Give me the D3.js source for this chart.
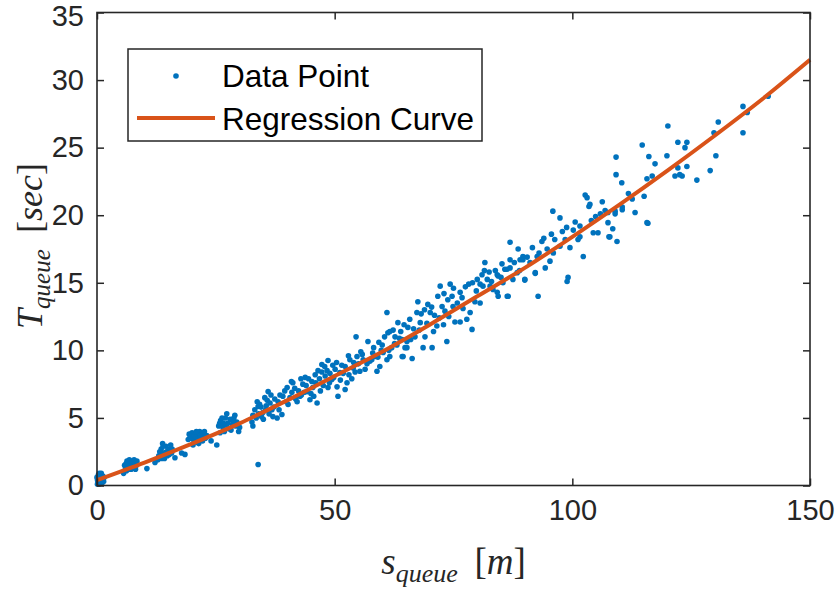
<!DOCTYPE html>
<html>
<head>
<meta charset="utf-8">
<script src="https://cdn.jsdelivr.net/npm/d3@7"></script>
<style>
  body { margin: 0; background: #fff; }
  svg { display: block; }
</style>
</head>
<body>
<script>
const width  = 840;
const height = 590;

const sQueue = [
  0.2, 0.5, 0.8, 0.3, 1.0, 0.1, 1.2, 0.6, 0.4, 0.9, 1.4, 0.2, 0.7, 1.1, 0.0, 0.5,
  6.0, 6.5, 7.0, 7.5, 8.0, 6.2, 7.2, 8.3, 6.8, 7.8, 5.8, 7.4, 8.1, 6.6, 10.5, 5.6,
  13.0, 13.5, 14.0, 14.5, 15.0, 15.5, 12.8, 14.2, 15.2, 15.8, 13.8, 14.8, 12.2, 16.4, 18.5, 17.8,
  19.2, 19.6, 20.0, 20.4, 20.8, 21.2, 21.6, 22.0, 22.4, 22.8, 20.2, 21.4, 19.8, 23.1, 25.2, 24.0,
  25.6, 26.0, 26.5, 27.0, 27.5, 28.0, 28.5, 29.0, 29.4, 26.8, 28.2, 27.3, 25.9, 30.0, 29.8, 28.8,
  32.6, 32.8, 33.2, 33.7, 34.0, 34.5, 34.9, 35.3, 35.6, 36.0, 36.4, 36.8,
  37.0, 37.4, 37.9, 38.1, 38.5, 38.9, 39.1, 33.9, 35.0, 36.2, 33.9, 32.8,
  40.0, 40.2, 41.0, 41.2, 42.1, 42.7, 43.3, 43.8, 44.2, 44.8, 45.2, 45.4,
  45.9, 46.3, 47.3, 47.3, 48.0, 48.6, 48.6, 49.4, 50.1, 50.5, 50.7, 51.1,
  52.2, 52.2, 52.6, 53.2, 53.9, 54.5, 54.7, 55.3, 56.0, 56.4, 57.0, 58.9,
  39.5, 40.6, 41.6, 42.4, 43.0, 44.0, 45.0, 46.0, 46.8, 47.6,
  48.4, 49.0, 49.8, 51.5, 53.0, 54.0, 55.0, 55.8, 57.4, 58.0,
  58.5, 59.1, 59.5, 60.0, 60.2, 61.0, 61.0, 61.2, 61.6, 61.6, 62.3, 62.7,
  63.1, 63.3, 64.2, 64.2, 64.4, 64.8, 65.2, 65.2, 65.4, 66.3, 66.9, 67.3,
  67.5, 68.0, 68.6, 69.0, 69.6, 70.1, 70.5, 71.5, 71.7, 72.2, 72.6, 73.6,
  73.8, 74.3, 74.7, 74.9, 75.3, 76.4, 76.4, 77.8, 78.5, 78.9,
  59.8, 62.0, 63.6, 66.0, 67.8, 69.4, 70.8, 72.0, 73.2, 75.8, 77.0, 79.5,
  80.0, 80.6, 80.6, 81.2, 81.6, 82.1, 82.7, 83.3, 84.2, 84.2, 84.4, 84.4, 85.4,
  85.8, 86.3, 86.3, 86.5, 86.9, 86.9, 86.9, 87.5, 88.4, 88.6, 89.0, 89.6, 89.6,
  90.0, 90.0, 91.1, 92.2, 92.2, 92.6, 92.8, 93.6, 94.3, 94.7, 95.3, 81.0, 83.0, 85.0,
  95.9, 96.3, 97.4, 97.4, 98.5, 98.9, 99.1, 99.5, 100.6, 101.2, 101.6, 101.6,
  102.3, 102.7, 103.1, 103.5, 103.7, 104.4, 105.4, 106.9, 107.5, 107.5, 107.7, 107.9,
  109.0, 109.0, 109.2, 109.2, 109.4, 110.4, 110.5, 110.5, 113.2, 114.7, 115.1, 115.7, 115.9,
  116.1, 117.4, 120.1, 119.9, 115.7, 116.8, 121.6, 122.2, 122.2, 123.1, 123.7, 124.1,
  124.1, 126.2, 129.0, 130.2, 129.8, 130.7, 135.9, 136.8, 135.9, 141.2, 122.6,
  0.3, 0.6, 1.3, 0.8, 0.1, 1.5,
  6.3, 7.1, 7.7, 8.4, 6.9, 6.1,
  13.2, 13.9, 14.6, 15.4, 13.6, 14.4, 15.7,
  19.4, 20.6, 21.0, 21.8, 22.2, 20.9, 22.6,
  25.8, 26.3, 27.2, 27.8, 28.6, 29.2, 26.6,
  33.5, 34.2, 35.8, 36.6, 37.2, 38.3, 34.6, 35.5,
  39.8, 40.9, 41.8, 42.9, 43.6, 44.5, 45.6, 46.5, 47.0, 47.9, 48.9, 49.6,
  50.4, 51.2, 51.8, 52.9, 53.6, 54.3, 55.5, 56.8, 57.8, 58.2, 59.3,
  60.5, 61.4, 62.6, 63.9, 64.6, 65.8, 66.6, 68.2, 68.9, 70.4,
  71.0, 72.9, 74.0, 75.0, 76.8, 77.5, 78.2, 79.0, 79.8, 73.0,
  81.5, 82.5, 83.8, 85.2, 87.8, 88.9, 90.5, 91.6, 93.0, 94.0, 96.0, 97.9, 98.8, 100.2, 95.6,
  104.0, 105.9, 106.3, 108.5, 111.8, 112.6, 104.9
];
const tQueue = [
  0.3, 0.6, 0.2, 0.8, 0.5, 0.1, 0.7, 0.4, 0.1, 0.9, 0.3, 0.5, 0.7, 0.2, 0.6, 0.9,
  1.3, 1.6, 1.8, 1.4, 1.7, 1.1, 1.2, 1.5, 1.9, 1.9, 1.5, 1.6, 1.2, 1.4, 1.25, 0.9,
  2.2, 2.7, 2.4, 2.9, 2.6, 3.0, 1.9, 2.0, 2.3, 2.7, 3.1, 2.2, 1.7, 2.05, 2.3, 2.4,
  3.4, 3.7, 3.9, 3.3, 3.8, 3.5, 4.0, 3.6, 3.9, 3.5, 3.0, 3.1, 3.5, 3.7, 3.0, 3.3,
  4.4, 4.8, 4.3, 5.0, 4.6, 4.9, 4.5, 5.2, 4.7, 4.0, 4.1, 5.3, 3.9, 4.3, 4.0, 5.0,
  4.7, 5.2, 5.6, 6.2, 5.3, 5.8, 5.4, 6.5, 5.9, 6.95, 6.1, 5.6,
  5.1, 6.4, 5.0, 6.2, 6.7, 5.25, 6.6, 5.85, 4.9, 5.3, 1.55, 4.4,
  7.25, 6.0, 6.9, 7.6, 6.2, 6.6, 7.5, 8.0, 6.95, 6.35, 7.7, 7.25,
  8.2, 6.1, 8.4, 8.95, 8.1, 9.25, 7.25, 7.85, 8.6, 7.3, 6.6, 8.35,
  7.1, 8.8, 7.6, 9.3, 8.7, 11.0, 9.55, 8.45, 9.3, 8.6, 10.65, 8.45,
  7.0, 6.5, 7.2, 7.0, 6.7, 7.4, 6.8, 7.6, 7.9, 7.4,
  8.5, 8.3, 8.0, 8.9, 8.2, 9.1, 9.0, 9.7, 9.2, 9.8,
  9.55, 9.5, 8.8, 10.4, 9.85, 9.3, 12.8, 11.3, 9.55, 11.4, 11.5, 11.0,
  10.4, 12.05, 9.55, 10.8, 9.55, 10.2, 10.65, 10.2, 11.7, 9.4, 11.0, 12.8,
  13.6, 12.05, 10.2, 11.0, 13.4, 12.8, 10.2, 11.8, 14.0, 14.75, 13.25, 10.65,
  13.75, 14.9, 14.0, 13.25, 12.1, 12.1, 14.3, 12.3, 12.8, 11.55,
  10.0, 10.2, 10.9, 10.8, 11.5, 12.0, 11.4, 12.4, 12.9, 13.5, 13.1, 13.6,
  15.25, 14.9, 13.5, 14.75, 16.5, 15.25, 14.75, 14.5, 15.6, 14.3, 14.0, 15.5, 15.0,
  16.0, 14.0, 16.0, 14.0, 16.1, 18.0, 16.7, 15.25, 15.75, 17.5, 16.7, 16.95, 16.7,
  15.25, 15.2, 16.5, 15.75, 15.7, 16.95, 14.0, 18.05, 16.1, 17.5, 16.6, 15.6, 15.1, 15.4,
  20.3, 18.2, 19.8, 17.7, 18.2, 15.1, 15.4, 17.6, 19.5, 18.2, 19.2, 18.4,
  16.95, 21.5, 21.3, 20.65, 20.8, 18.7, 18.7, 20.35, 20.2, 19.45, 18.4, 18.4,
  20.3, 20.1, 24.3, 23.0, 18.05, 22.4, 20.4, 20.6, 20.2, 25.2, 21.4, 19.45, 19.4,
  24.35, 23.8, 26.6, 24.4, 22.7, 22.9, 22.9, 25.4, 23.5, 22.9, 25.0, 25.4,
  23.6, 22.6, 23.3, 24.4, 26.1, 26.9, 28.05, 27.6, 26.1, 28.8, 23.0,
  0.2, 0.8, 0.5, 0.6, 0.4, 0.6,
  1.8, 1.5, 1.3, 1.8, 1.2, 1.6,
  2.5, 2.9, 2.5, 2.7, 2.0, 2.3, 2.4,
  3.8, 3.6, 3.2, 3.7, 3.3, 4.0, 4.0,
  4.6, 5.0, 4.5, 4.2, 4.7, 4.4, 4.6,
  5.0, 6.0, 6.3, 6.7, 5.8, 5.6, 5.1, 5.6,
  6.2, 7.7, 6.4, 7.9, 6.9, 7.9, 6.6, 8.5, 7.0, 8.8, 7.6, 8.9,
  9.1, 7.8, 8.3, 9.6, 7.9, 8.4, 9.9, 9.0, 9.3, 10.2, 10.6,
  11.0, 10.0, 10.5, 11.4, 11.9, 12.3, 11.6, 12.7, 13.0, 13.2,
  12.6, 11.9, 12.5, 14.6, 13.9, 14.7, 14.9, 15.0, 14.4, 14.2,
  15.9, 15.8, 15.9, 16.4, 16.5, 15.9, 16.9, 17.6, 17.2, 18.3, 17.2, 18.8, 19.1, 18.9, 18.6,
  19.6, 20.1, 21.0, 19.0, 21.6, 21.2, 19.9
];

// regression curve, sampled off the figure
const curveS = [0, 10, 20, 30, 40, 50, 60, 70, 80, 90, 100, 110, 120, 130, 140, 150];
const curveT = [0.4, 1.7, 3.1, 4.6, 6.3, 8.1, 9.9, 11.9, 14.0, 16.1, 18.4, 20.8, 23.3, 25.9, 28.6, 31.5];

const xTicks = [0, 50, 100, 150];
const yTicks = [0, 5, 10, 15, 20, 25, 30, 35];
const legendLabels = ['Data Point', 'Regression Curve'];

const blue   = '#0072BD';
const orange = '#D95319';
const ink    = '#262626';

const plot = {left: 97, right: 810, top: 12.5, bottom: 485.5};

const x = d3.scaleLinear().domain([0, 150]).range([plot.left, plot.right]);
const y = d3.scaleLinear().domain([0, 35]).range([plot.bottom, plot.top]);

const svg = d3.select('body').append('svg')
  .attr('width', width)
  .attr('height', height);

svg.append('rect').attr('width', width).attr('height', height).attr('fill', '#fff');

// scatter
const points = sQueue.map((s, i) => ({s: s, t: tQueue[i]}));

svg.append('g')
  .selectAll('circle')
  .data(points)
  .enter().append('circle')
  .attr('cx', d => x(d.s))
  .attr('cy', d => y(d.t))
  .attr('r', 2.8)
  .attr('fill', blue);

// regression curve
const curve = curveS.map((s, i) => ({s: s, t: curveT[i]}));
const line = d3.line()
  .x(d => x(d.s))
  .y(d => y(d.t))
  .curve(d3.curveMonotoneX);

svg.append('path')
  .datum(curve)
  .attr('d', line)
  .attr('fill', 'none')
  .attr('stroke', orange)
  .attr('stroke-width', 4);

// axes, matlab style: box on, ticks inward on all four sides
const tickLen = 7;
const axisFont = '"Liberation Sans", Arial, Helvetica, sans-serif';

const xAxis = d3.axisBottom(x).tickValues(xTicks).tickSize(-tickLen).tickPadding(14);
const yAxis = d3.axisLeft(y).tickValues(yTicks).tickSize(-tickLen).tickPadding(13);

const gx = svg.append('g')
  .attr('transform', 'translate(0,' + plot.bottom + ')')
  .call(xAxis);
const gy = svg.append('g')
  .attr('transform', 'translate(' + plot.left + ',0)')
  .call(yAxis);

svg.append('g')
  .attr('transform', 'translate(0,' + plot.top + ')')
  .call(d3.axisTop(x).tickValues(xTicks).tickSize(-tickLen).tickFormat(''));
svg.append('g')
  .attr('transform', 'translate(' + plot.right + ',0)')
  .call(d3.axisRight(y).tickValues(yTicks).tickSize(-tickLen).tickFormat(''));

svg.selectAll('.domain').remove();
svg.selectAll('.tick line').attr('stroke', ink).attr('stroke-width', 1.5);
svg.selectAll('.tick text')
  .attr('fill', ink)
  .style('font-family', axisFont)
  .style('font-size', '29px');

gx.selectAll('.tick text').attr('dy', '0.71em');
// keep the top label "35" inside the picture
gy.selectAll('.tick text').attr('dy', d => d === 35 ? '0.45em' : '0.32em');

svg.append('rect')
  .attr('x', plot.left)
  .attr('y', plot.top)
  .attr('width', plot.right - plot.left)
  .attr('height', plot.bottom - plot.top)
  .attr('fill', 'none')
  .attr('stroke', ink)
  .attr('stroke-width', 1.6);

// latex-ish axis labels
const serif = '"Liberation Serif", "Times New Roman", serif';

const xLabel = svg.append('text')
  .attr('x', (plot.left + plot.right) / 2)
  .attr('y', 574)
  .attr('text-anchor', 'middle')
  .attr('fill', ink)
  .style('font-family', serif)
  .style('font-size', '37px');
xLabel.append('tspan').style('font-style', 'italic').text('s');
xLabel.append('tspan').style('font-style', 'italic').style('font-size', '26px').attr('dy', 8).text('queue');
xLabel.append('tspan').attr('dy', -8).text('\u2009 [');
xLabel.append('tspan').style('font-style', 'italic').text('m');
xLabel.append('tspan').text(']');

const yLabel = svg.append('text')
  .attr('transform', 'translate(42,' + ((plot.top + plot.bottom) / 2 - 3) + ') rotate(-90)')
  .attr('text-anchor', 'middle')
  .attr('fill', ink)
  .style('font-family', serif)
  .style('font-size', '36px');
yLabel.append('tspan').style('font-style', 'italic').text('T');
yLabel.append('tspan').style('font-style', 'italic').style('font-size', '25px').attr('dy', 8).text('queue');
yLabel.append('tspan').attr('dy', -8).text('\u2009 [');
yLabel.append('tspan').style('font-style', 'italic').text('sec');
yLabel.append('tspan').text(']');

// legend
const legend = svg.append('g');
legend.append('rect')
  .attr('x', 128).attr('y', 49)
  .attr('width', 354).attr('height', 92)
  .attr('fill', '#fff')
  .attr('stroke', ink)
  .attr('stroke-width', 1.5);

legend.append('circle')
  .attr('cx', 176).attr('cy', 76)
  .attr('r', 2.8)
  .attr('fill', blue);
legend.append('line')
  .attr('x1', 137).attr('x2', 215)
  .attr('y1', 118).attr('y2', 118)
  .attr('stroke', orange)
  .attr('stroke-width', 4);

legend.selectAll('text.lg')
  .data(legendLabels)
  .enter().append('text')
  .attr('class', 'lg')
  .attr('x', 222)
  .attr('y', (d, i) => 87 + i * 43)
  .attr('fill', '#000')
  .style('font-family', axisFont)
  .style('font-size', '31.5px')
  .text(d => d);
</script>
</body>
</html>
